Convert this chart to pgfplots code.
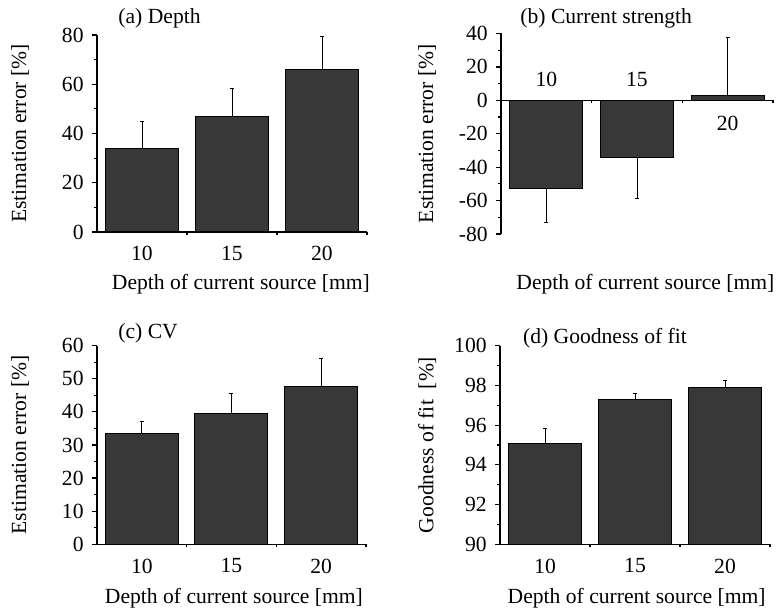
\documentclass[border=0pt]{standalone}
\usepackage{pgfplots}
\pgfplotsset{compat=1.18}
\usepackage{fontspec}
\setmainfont{Liberation Serif}
\definecolor{barfill}{HTML}{383838}
\pgfplotsset{
  panel/.style={
    scale only axis,
    anchor=south west,
    font=\fontsize{10.8}{13}\selectfont,
    /pgf/number format/assume math mode=true,
    axis y line*=left,
    axis line style={-, line width=0.6pt},
    xmin=-0.5, xmax=2.5,
    xtick={0,1,2},
    xticklabels={10,15,20},
    minor xtick={0.5,1.5,2.5},
    major x tick style={draw=none},
    minor x tick style={line width=0.6pt},
    tick align=outside,
    major tick length=2.5pt,
    minor tick length=1.5pt,
    tick style={black, line width=0.6pt},
    xticklabel style={anchor=north, inner sep=0pt, yshift=-4.5pt},
    yticklabel style={anchor=east, inner sep=0pt, xshift=-4pt},
    ybar, bar width=36.5pt,
    error bars/error bar style={line width=0.5pt, black},
    error bars/error mark options={rotate=90, line width=0.5pt, mark size=1pt, black},
    every axis title shift=0pt,
    title style={inner sep=0pt, anchor=west, font=\fontsize{10.8}{13}\selectfont},
    xlabel style={anchor=center},
    ylabel style={anchor=center, rotate=0},
  },
  barstyle/.style={fill=barfill, draw=black, line width=0.5pt, bar shift=0pt},
}
\begin{document}
\begin{tikzpicture}
\useasboundingbox (0,0) rectangle (388.5pt,304.5pt);
% (a)
\begin{axis}[panel, axis x line*=bottom,
  at={(48.5pt,188.5pt)}, width=135pt, height=98.5pt,
  ymin=0, ymax=80, ytick={0,20,...,80}, minor y tick num=1,
  title={(a) Depth}, title style={at={(axis description cs:0.078,1.086)}},
  xlabel={Depth of current source [mm]}, xlabel style={at={(axis description cs:0.533,-0.264)}},
  ylabel={Estimation error [\%]}, ylabel style={at={(axis description cs:-0.285,0.5)}},
]
\addplot[barstyle, error bars/.cd, y dir=plus, y explicit] table[x=x, y=y, y error=e] {
x y e
0 34 11
1 47 11.4
2 66 13.2
};
\end{axis}
% (b)
\begin{axis}[panel, axis x line*=middle,
  at={(250.5pt,187.5pt)}, width=136pt, height=100.25pt,
  ymin=-80, ymax=40, ytick={-80,-60,...,40}, minor y tick num=1,
  yticklabels={-80,-60,-40,-20,0,20,40},
  xticklabels={},
  title={(b) Current strength}, title style={at={(axis description cs:0.07,1.077)}},
  xlabel={Depth of current source [mm]}, xlabel style={at={(axis description cs:0.531,-0.249)}},
  ylabel={Estimation error [\%]}, ylabel style={at={(axis description cs:-0.272,0.5)}},
]
\addplot[barstyle, error bars/.cd, y dir=both, y explicit] table[x=x, y=y, y error plus=ep, y error minus=em] {
x y ep em
0 -53 0 20.4
1 -34 0 24.5
2 3 34.4 0
};
\node[anchor=south, inner sep=0pt, yshift=6.5pt] at (axis cs:0,0) {10};
\node[anchor=south, inner sep=0pt, yshift=6.5pt] at (axis cs:1,0) {15};
\node[anchor=north, inner sep=0pt, yshift=-7.5pt] at (axis cs:2,0) {20};
\end{axis}
% (c)
\begin{axis}[panel, axis x line*=bottom,
  at={(48.5pt,32.35pt)}, width=134.5pt, height=99.3pt,
  ymin=0, ymax=60, ytick={0,10,...,60}, minor y tick num=1,
  title={(c) CV}, title style={at={(axis description cs:0.078,1.064)}},
  xlabel={Depth of current source [mm]}, xlabel style={at={(axis description cs:0.509,-0.272)}},
  ylabel={Estimation error [\%]}, ylabel style={at={(axis description cs:-0.286,0.5)}},
]
\addplot[barstyle, error bars/.cd, y dir=plus, y explicit] table[x=x, y=y, y error=e] {
x y e
0 33.5 3.5
1 39.6 6.0
2 47.8 8.4
};
\end{axis}
% (d)
\begin{axis}[panel, axis x line*=bottom,
  at={(250pt,32.35pt)}, width=135pt, height=99.3pt,
  ymin=90, ymax=100, ytick={90,92,...,100}, minor y tick num=1,
  title={(d) Goodness of fit}, title style={at={(axis description cs:0.084,1.040)}},
  xlabel={Depth of current source [mm]}, xlabel style={at={(axis description cs:0.506,-0.272)}},
  ylabel={Goodness of fit\ \ [\%]}, ylabel style={at={(axis description cs:-0.270,0.5)}},
]
\addplot[barstyle, error bars/.cd, y dir=plus, y explicit] table[x=x, y=y, y error=e] {
x y e
0 95.1 0.75
1 97.3 0.3
2 97.9 0.35
};
\end{axis}
\end{tikzpicture}
\end{document}
